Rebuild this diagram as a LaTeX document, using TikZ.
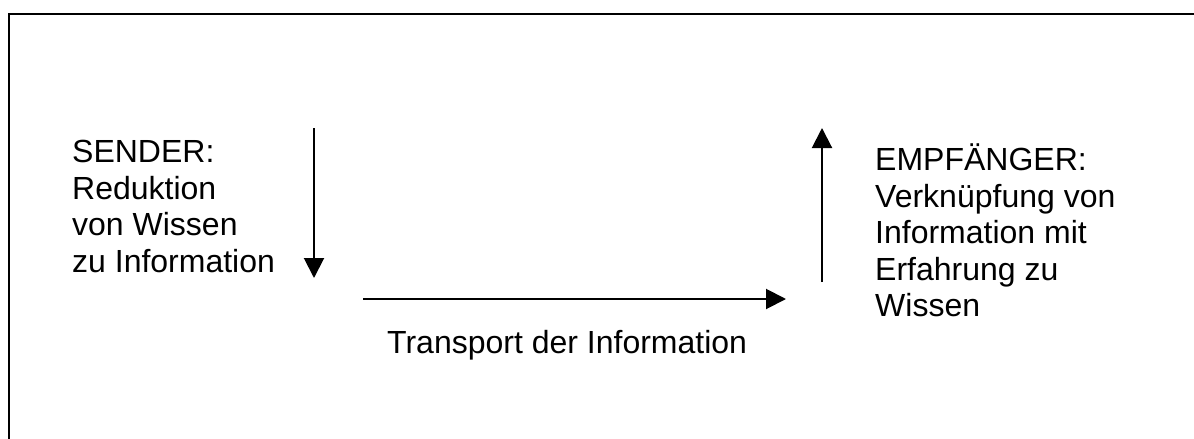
\documentclass[tikz,border=0pt]{standalone}
\usepackage{fontspec}
\setmainfont{Liberation Sans}
\usetikzlibrary{arrows.meta}
\begin{document}
\begin{tikzpicture}[x=1pt,y=-1pt,
  frame/.style={line width=2pt},
  flow/.style={line width=2pt,-{Triangle[width=20pt,length=20pt]}},
  lbl/.style={inner sep=0pt,align=left,anchor=north west,font=\fontsize{32}{36.5}\selectfont}]
\path[use as bounding box] (0,0) rectangle (1194,439);
\clip (0,0) rectangle (1194,439);
\draw[frame] (9,460) -- (9,14) -- (1210,14);
\node[lbl] (sender) at (72,132.5) {\rule{0pt}{30pt}SENDER:\\Reduktion\\von Wissen\\zu Information};
\node[lbl] (empf) at (875,140.5) {\rule{0pt}{30pt}EMPFÄNGER:\\Verknüpfung von\\Information mit\\Erfahrung zu\\Wissen};
\node[inner sep=0pt,anchor=base west,font=\fontsize{32}{36.5}\selectfont] (transport) at (387,353) {Transport der Information};
\coordinate (d1) at (314,128);
\coordinate (d2) at (314,278);
\coordinate (h1) at (363,299);
\coordinate (h2) at (786,299);
\coordinate (u1) at (822,282);
\coordinate (u2) at (822,128);
\draw[flow] (d1) -- (d2);
\draw[flow] (h1) -- (h2);
\draw[flow] (u1) -- (u2);
\end{tikzpicture}
\end{document}
